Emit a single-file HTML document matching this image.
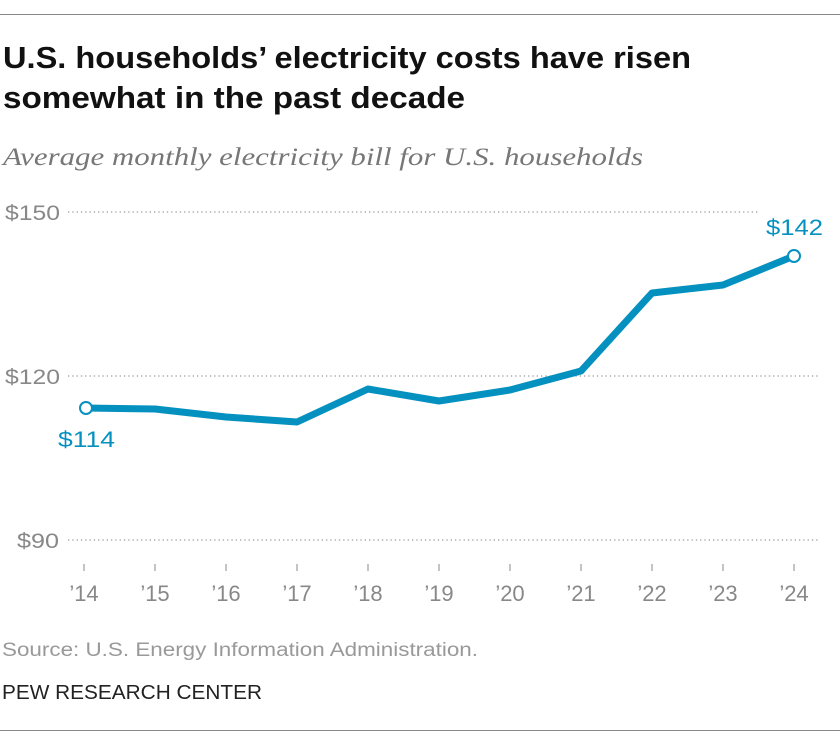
<!DOCTYPE html>
<html><head><meta charset="utf-8"><style>
body{margin:0;background:#fff;width:840px;height:744px;overflow:hidden;font-family:"Liberation Sans",sans-serif}
</style></head><body>
<svg width="840" height="744" xmlns="http://www.w3.org/2000/svg" font-family="Liberation Sans, sans-serif">
<line x1="0" y1="14.5" x2="840" y2="14.5" stroke="#888" stroke-width="1"/>
<line x1="0" y1="730.5" x2="840" y2="730.5" stroke="#888" stroke-width="1"/>
<text x="3" y="68" font-size="31" font-weight="bold" fill="#111" textLength="688" lengthAdjust="spacingAndGlyphs">U.S. households’ electricity costs have risen</text>
<text x="3" y="108" font-size="31" font-weight="bold" fill="#111" textLength="462" lengthAdjust="spacingAndGlyphs">somewhat in the past decade</text>
<text x="3" y="165" font-size="25" font-style="italic" fill="#777" font-family="Liberation Serif, serif" textLength="640" lengthAdjust="spacingAndGlyphs">Average monthly electricity bill for U.S. households</text>
<g stroke="#999" stroke-width="1.3" stroke-dasharray="1.3 3">
<line x1="68" y1="212" x2="760" y2="212"/>
<line x1="68" y1="376" x2="820" y2="376"/>
<line x1="68" y1="540" x2="820" y2="540"/>
</g>
<g font-size="21" fill="#888">
<text x="5" y="220" textLength="55" lengthAdjust="spacingAndGlyphs">$150</text>
<text x="5" y="384" textLength="55" lengthAdjust="spacingAndGlyphs">$120</text>
<text x="17" y="548" textLength="42" lengthAdjust="spacingAndGlyphs">$90</text>
</g>
<g stroke="#888" stroke-width="1">
<line x1="84" y1="564" x2="84" y2="571"/><line x1="155" y1="564" x2="155" y2="571"/><line x1="226" y1="564" x2="226" y2="571"/><line x1="297" y1="564" x2="297" y2="571"/><line x1="368" y1="564" x2="368" y2="571"/><line x1="439" y1="564" x2="439" y2="571"/><line x1="510" y1="564" x2="510" y2="571"/><line x1="581" y1="564" x2="581" y2="571"/><line x1="652" y1="564" x2="652" y2="571"/><line x1="723" y1="564" x2="723" y2="571"/><line x1="794" y1="564" x2="794" y2="571"/>
</g>
<g font-size="22" fill="#888" text-anchor="middle">
<text x="84" y="601">’14</text><text x="155" y="601">’15</text><text x="226" y="601">’16</text><text x="297" y="601">’17</text><text x="368" y="601">’18</text><text x="439" y="601">’19</text><text x="510" y="601">’20</text><text x="581" y="601">’21</text><text x="652" y="601">’22</text><text x="723" y="601">’23</text><text x="794" y="601">’24</text>
</g>
<polyline fill="none" stroke="#0591c0" stroke-width="7" stroke-linejoin="round" points="84,408 155,409 226,417 297,422 368,389 439,401 510,390 581,371 652,293 723,285 794,256"/>
<circle cx="86" cy="408" r="6" fill="#fff" stroke="#0591c0" stroke-width="2"/>
<circle cx="794" cy="256" r="6" fill="#fff" stroke="#0591c0" stroke-width="2"/>
<text x="58" y="447" font-size="22" fill="#0591c0" textLength="57" lengthAdjust="spacingAndGlyphs">$114</text>
<text x="766" y="235" font-size="22" fill="#0591c0" textLength="57" lengthAdjust="spacingAndGlyphs">$142</text>
<text x="2" y="656" font-size="19" fill="#999" textLength="476" lengthAdjust="spacingAndGlyphs">Source: U.S. Energy Information Administration.</text>
<text x="2" y="699" font-size="20" fill="#222" textLength="260" lengthAdjust="spacingAndGlyphs">PEW RESEARCH CENTER</text>
</svg>
</body></html>
